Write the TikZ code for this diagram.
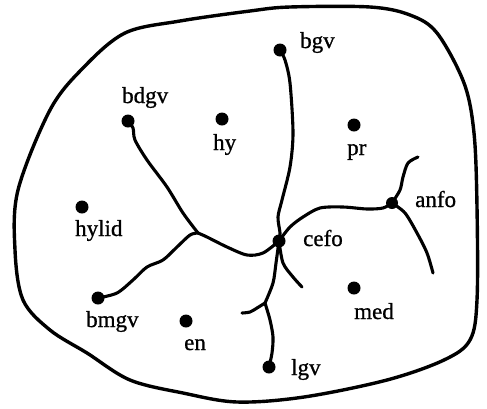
\documentclass[tikz,border=0pt]{standalone}
\usepackage{fontspec}
\setmainfont{Liberation Serif}
\newfontfamily\lblfont{Liberation Serif}[FakeBold=0.9]
\begin{document}
\begin{tikzpicture}[x=1pt,y=-1pt,
  dotnode/.style={circle,fill=black,inner sep=0pt,minimum size=13pt},
  lbl/.style={anchor=base west,inner sep=0pt,font=\lblfont\fontsize{23}{26}\selectfont},
  branch/.style={line width=3.1pt,line cap=round,line join=round},
  outline/.style={line width=3.4pt,line join=round}]
\useasboundingbox (0,0) rectangle (487,408);
% outline
\draw[outline] plot[smooth cycle,tension=0.55] coordinates {
  (125,33) (180,21) (250,11) (290,7) (370,7) (410,15) (437,33) (464,83)
  (474,133) (477,207) (477,300) (470,340) (444,360) (387,380) (304,397)
  (237,402) (183,393) (130,380) (87,353) (50,330) (23,300) (15,250)
  (18,190) (50,110) (83,68)};
% dots
\node[dotnode] (bgv) at (280,50) {};
\node[dotnode] (bdgv) at (128,121) {};
\node[dotnode] (hy) at (222,119) {};
\node[dotnode] (pr) at (354,125) {};
\node[dotnode] (hylid) at (82,207) {};
\node[dotnode] (bmgv) at (98,298) {};
\node[dotnode] (en) at (186,321) {};
\node[dotnode] (cefo) at (279,241) {};
\node[dotnode] (med) at (354,288) {};
\node[dotnode] (lgv) at (269,367) {};
\node[dotnode,minimum size=12pt] (anfo) at (392,203) {};
% labels
\node[lbl] (tbgv) at (300,48) {bgv};
\node[lbl] (tbdgv) at (122,103) {bdgv};
\node[lbl] (thy) at (213,150) {hy};
\node[lbl] (tpr) at (347,155) {pr};
\node[lbl] (thylid) at (75,236) {hylid};
\node[lbl] (tbmgv) at (86,327) {bmgv};
\node[lbl] (ten) at (184,350) {en};
\node[lbl] (tcefo) at (303,246) {cefo};
\node[lbl] (tmed) at (354,319) {med};
\node[lbl] (tlgv) at (291,375) {lgv};
\node[lbl] (tanfo) at (415,207) {anfo};
% junctions and free ends
\coordinate (J1) at (198,233);
\coordinate (J2) at (265,303);
\coordinate (upEnd) at (418,157);
\coordinate (downEnd) at (433,273);
\coordinate (stubEnd) at (302,287);
\coordinate (leftEnd) at (242,313);
% branches
\draw[branch] plot[smooth] coordinates {(bgv.center) (285,60) (290,83) (293,133) (290,167) (282,200) (278,217) (280,233) (cefo.center)};
\draw[branch] plot[smooth] coordinates {(bdgv.center) (133,128) (135,140) (147,160) (167,187) (183,213) (J1)};
\draw[branch] plot[smooth] coordinates {(J1) (207,237) (227,247) (247,255) (263,253) (cefo.center)};
\draw[branch] plot[smooth] coordinates {(J1) (190,235) (177,247) (163,260) (147,267) (133,280) (117,293) (bmgv.center)};
\draw[branch] plot[smooth] coordinates {(cefo.center) (290,227) (303,217) (320,208) (343,207) (367,209) (383,208) (anfo.center)};
\draw[branch] plot[smooth] coordinates {(anfo.center) (400,190) (403,177) (408,163) (upEnd)};
\draw[branch] plot[smooth] coordinates {(anfo.center) (405,213) (417,233) (427,253) (downEnd)};
\draw[branch] plot[smooth] coordinates {(cefo.center) (283,263) (293,277) (stubEnd)};
\draw[branch] plot[smooth] coordinates {(cefo.center) (276,263) (273,283) (J2)};
\draw[branch] plot[smooth] coordinates {(J2) (270,320) (273,337) (272,353) (lgv.center)};
\draw[branch] plot[smooth] coordinates {(J2) (257,308) (250,312) (leftEnd)};
\end{tikzpicture}
\end{document}
